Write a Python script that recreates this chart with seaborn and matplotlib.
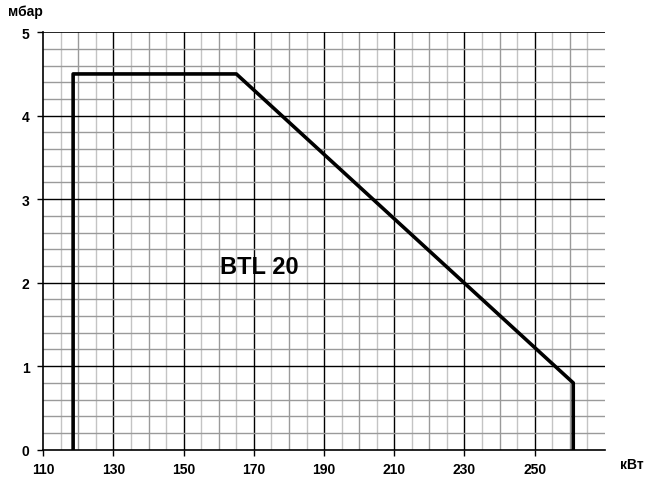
import numpy as np
import pandas as pd
import matplotlib
matplotlib.use("Agg")
import matplotlib.pyplot as plt
import seaborn as sns

# ── Data ──────────────────────────────────────────────────────────────────────
power_kw = [118.5, 118.5, 165, 261, 261]
pressure_mbar = [0, 4.5, 4.5, 0.8, 0]
x_ticks = [110, 130, 150, 170, 190, 210, 230, 250]
y_ticks = [0, 1, 2, 3, 4, 5]
label_text = "BTL 20"

df = pd.DataFrame({"kw": power_kw, "mbar": pressure_mbar})

# ── Plot ──────────────────────────────────────────────────────────────────────
sns.set_theme(style="white")
plt.rcParams["font.family"] = ["Liberation Sans", "DejaVu Sans"]
plt.rcParams["text.color"] = "black"
plt.rcParams["xtick.color"] = "black"
plt.rcParams["ytick.color"] = "black"

fig = plt.figure(figsize=(6.56, 4.81), dpi=100)
ax = fig.add_axes([0.066, 0.063, 0.856, 0.868])
ax.set_xlim(110, 270)
ax.set_ylim(0, 5)

# grid: verticals every 5 (light), 10 (grey), 20 (black)
for xv in range(115, 270, 5):
    if (xv - 110) % 20 == 0:
        ax.axvline(xv, color="black", lw=1.0, zorder=1)
    elif (xv - 110) % 10 == 0:
        ax.axvline(xv, color="#9a9a9a", lw=1.0, zorder=1)
    else:
        ax.axvline(xv, color="#c4c4c4", lw=1.0, zorder=1)
# horizontals every 0.2, black at integers
for i in range(1, 25):
    if i % 5 == 0:
        ax.axhline(i / 5, color="black", lw=1.0, zorder=1)
    else:
        ax.axhline(i / 5, color="#9a9a9a", lw=1.0, zorder=1)
ax.axhline(5, color="black", lw=1.2, zorder=1)

sns.lineplot(data=df, x="kw", y="mbar", sort=False, estimator=None,
             color="black", lw=2.6, ax=ax, zorder=3)

ax.text(171.5, 2.19, label_text, fontsize=17, fontweight="bold",
        color="black", ha="center", va="center", zorder=4)

ax.set_xticks(x_ticks)
ax.set_yticks(y_ticks)
ax.set_xticklabels([str(v) for v in x_ticks], fontsize=10, fontweight="bold")
ax.set_yticklabels([str(v) for v in y_ticks], fontsize=10, fontweight="bold")
ax.tick_params(axis="both", length=4, width=1, color="black", labelcolor="black",
               direction="out", bottom=True, left=True, pad=6)
ax.tick_params(axis="x", pad=5)
ax.set_xlabel("")
ax.set_ylabel("")

for side in ["right", "top"]:
    ax.spines[side].set_visible(False)
for side in ["left", "bottom"]:
    ax.spines[side].set_color("black")
    ax.spines[side].set_linewidth(1.2)

fig.text(0.012, 0.975, "мбар", fontsize=10, fontweight="bold", color="black",
         ha="left", va="center")
fig.text(0.945, 0.033, "кВт", fontsize=10, fontweight="bold", color="black",
         ha="left", va="center")

plt.savefig("out.png", dpi=100)
